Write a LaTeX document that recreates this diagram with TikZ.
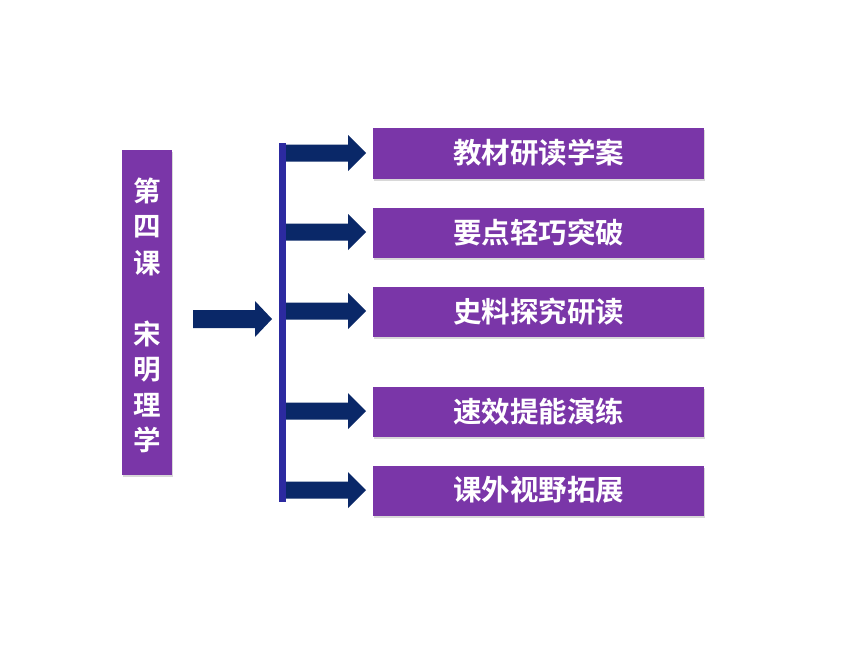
\documentclass[tikz,border=0pt]{standalone}
\usepackage{fontspec}
\newfontfamily\cjk{Noto Sans CJK SC Bold}
\usetikzlibrary{shadows}
\definecolor{boxpurple}{RGB}{122,54,168}
\definecolor{barblue}{RGB}{44,42,160}
\definecolor{arrnavy}{RGB}{10,40,104}
\tikzset{
  pbox/.style={fill=boxpurple, draw=none, drop shadow={shadow xshift=1pt, shadow yshift=-1.5pt, opacity=0.3}},
  ptext/.style={text=white, font=\cjk\fontsize{28.5}{30}\selectfont, inner sep=0pt},
  ltext/.style={text=white, font=\cjk\fontsize{27.5}{30}\selectfont, inner sep=0pt},
  fatarrow/.style={fill=arrnavy, draw=none}
}
\begin{document}
\begin{tikzpicture}[x=1pt,y=-1pt]
\useasboundingbox (0,0) rectangle (860,645);
\fill[white] (0,0) rectangle (860,645);
% left box
\node[pbox, minimum width=50pt, minimum height=325pt, anchor=north west, inner sep=0pt] (lbox) at (122,150) {};
\foreach \c/\y [count=\i] in {第/191,四/227,课/263,宋/334,明/370,理/405,学/440}
  \node[ltext] (l\i) at (147,\y) {\c};
% left arrow
\fill[fatarrow] (193,310) -- (255,310) -- (255,301) -- (272,319) -- (255,337) -- (255,328) -- (193,328) -- cycle;
\coordinate (la) at (272,319);
% vertical bar
\fill[barblue] (279,143) rectangle (286,502);
\coordinate (bar) at (282.5,320);
% right boxes
\foreach \t/\yt/\yb [count=\i] in {教材研读学案/128/179,要点轻巧突破/208/258,史料探究研读/287/337,速效提能演练/387/437,课外视野拓展/466/516}{
  \node[pbox, minimum width=331pt, minimum height={(\yb-\yt)*1pt}, anchor=north west, inner sep=0pt] (r\i) at (373,\yt) {};
  \node[ptext] (rt\i) at ([yshift=1pt]r\i.center) {\t};
}
% right arrows
\foreach \i/\yc in {1/153,2/232,3/311,4/411,5/490}{
  \fill[fatarrow] (286,\yc-8.5) -- (348,\yc-8.5) -- (348,\yc-18) -- (366,\yc) -- (348,\yc+18) -- (348,\yc+8.5) -- (286,\yc+8.5) -- cycle;
}
\end{tikzpicture}
\end{document}
